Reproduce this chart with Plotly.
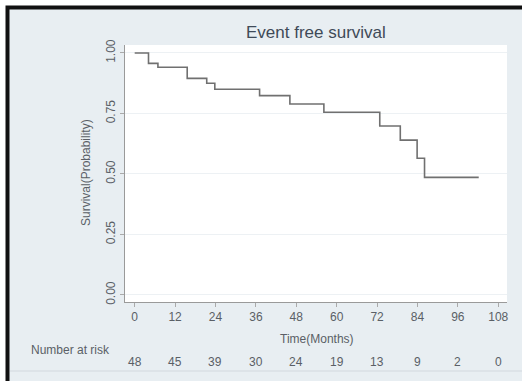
import plotly.graph_objects as go

# Data
time_months = [0, 4.1, 6.9, 15.6, 21.4, 23.8, 37.1, 46.1, 56.2, 72.8, 78.9, 83.9, 86.1, 102.2]
survival = [1.0, 0.957, 0.941, 0.895, 0.875, 0.850, 0.824, 0.789, 0.755, 0.698, 0.640, 0.565, 0.486, 0.486]
x_ticks = [0, 12, 24, 36, 48, 60, 72, 84, 96, 108]
y_ticks = [0.0, 0.25, 0.5, 0.75, 1.0]
y_tick_labels = ["0.00", "0.25", "0.50", "0.75", "1.00"]
at_risk = [48, 45, 39, 30, 24, 19, 13, 9, 2, 0]

TXT = "#5a5f66"
BG = "#e8eef2"
# plot area in pixels: x 125..507, y 45..302
PL, PR, PT, PB = 125, 507, 45, 302


def px(x):
    return (x - PL) / (PR - PL)


def py(y):
    return (PB - y) / (PB - PT)


fig = go.Figure()
fig.add_trace(go.Scatter(
    x=time_months, y=survival, mode="lines", line_shape="hv",
    line=dict(color="#707070", width=1.6), showlegend=False, hoverinfo="skip"))

# white strips outside the frame
fig.add_shape(type="rect", xref="paper", yref="paper", x0=px(-5), x1=px(530), y0=py(7), y1=py(-5),
              fillcolor="white", line=dict(width=0), layer="above")
fig.add_shape(type="rect", xref="paper", yref="paper", x0=px(-5), x1=px(7), y0=py(390), y1=py(-5),
              fillcolor="white", line=dict(width=0), layer="above")
# black frame
fig.add_shape(type="rect", xref="paper", yref="paper", x0=px(7.5), x1=px(540), y0=py(400), y1=py(7.5),
              fillcolor="rgba(0,0,0,0)", line=dict(color="#111111", width=4), layer="above")
# faint lower band line
fig.add_shape(type="line", xref="paper", yref="paper", x0=px(10), x1=px(522), y0=py(371), y1=py(371),
              line=dict(color="#dde3e8", width=2), layer="above")

fig.add_annotation(text="Event free survival", xref="paper", yref="paper",
                   x=px(316), y=py(33), xanchor="center", yanchor="middle",
                   showarrow=False, font=dict(size=17, color="#3f4a58"))
fig.add_annotation(text="Survival(Probability)", xref="paper", yref="paper",
                   x=px(86), y=py(173), textangle=-90, xanchor="center", yanchor="middle",
                   showarrow=False, font=dict(size=12, color=TXT))
fig.add_annotation(text="Time(Months)", xref="paper", yref="paper",
                   x=px(317), y=py(339), xanchor="center", yanchor="middle",
                   showarrow=False, font=dict(size=12, color=TXT))
fig.add_annotation(text="Number at risk", xref="paper", yref="paper",
                   x=px(29), y=py(350), xanchor="left", yanchor="middle",
                   showarrow=False, font=dict(size=12, color=TXT))
for xt, n in zip(x_ticks, at_risk):
    fig.add_annotation(text=str(n), x=xt, xref="x", yref="paper",
                       y=py(362), xanchor="center", yanchor="middle",
                       showarrow=False, font=dict(size=12, color=TXT))

fig.update_layout(
    width=522, height=381,
    margin=dict(l=PL, r=522 - PR, t=PT, b=381 - PB),
    paper_bgcolor=BG, plot_bgcolor="white",
    font=dict(family="Arial", color=TXT),
    xaxis=dict(range=[-2.88, 110.6], tickvals=x_ticks, ticks="outside", ticklen=4,
               tickcolor="#aaaaaa", showline=True, linecolor="#9a9a9a", linewidth=1,
               showgrid=False, zeroline=False, tickfont=dict(size=12, color=TXT)),
    yaxis=dict(range=[-0.029, 1.033], tickvals=y_ticks, ticktext=y_tick_labels,
               tickangle=-90, ticks="outside", ticklen=4, tickcolor="#aaaaaa",
               showline=True, linecolor="#9a9a9a", linewidth=1,
               showgrid=True, gridcolor="#edf1f4", gridwidth=1, zeroline=False,
               tickfont=dict(size=12, color=TXT)),
)
fig.write_html("out.html", config={"displayModeBar": False},
               post_script="document.body.style.margin='0';document.body.style.overflow='hidden';")
